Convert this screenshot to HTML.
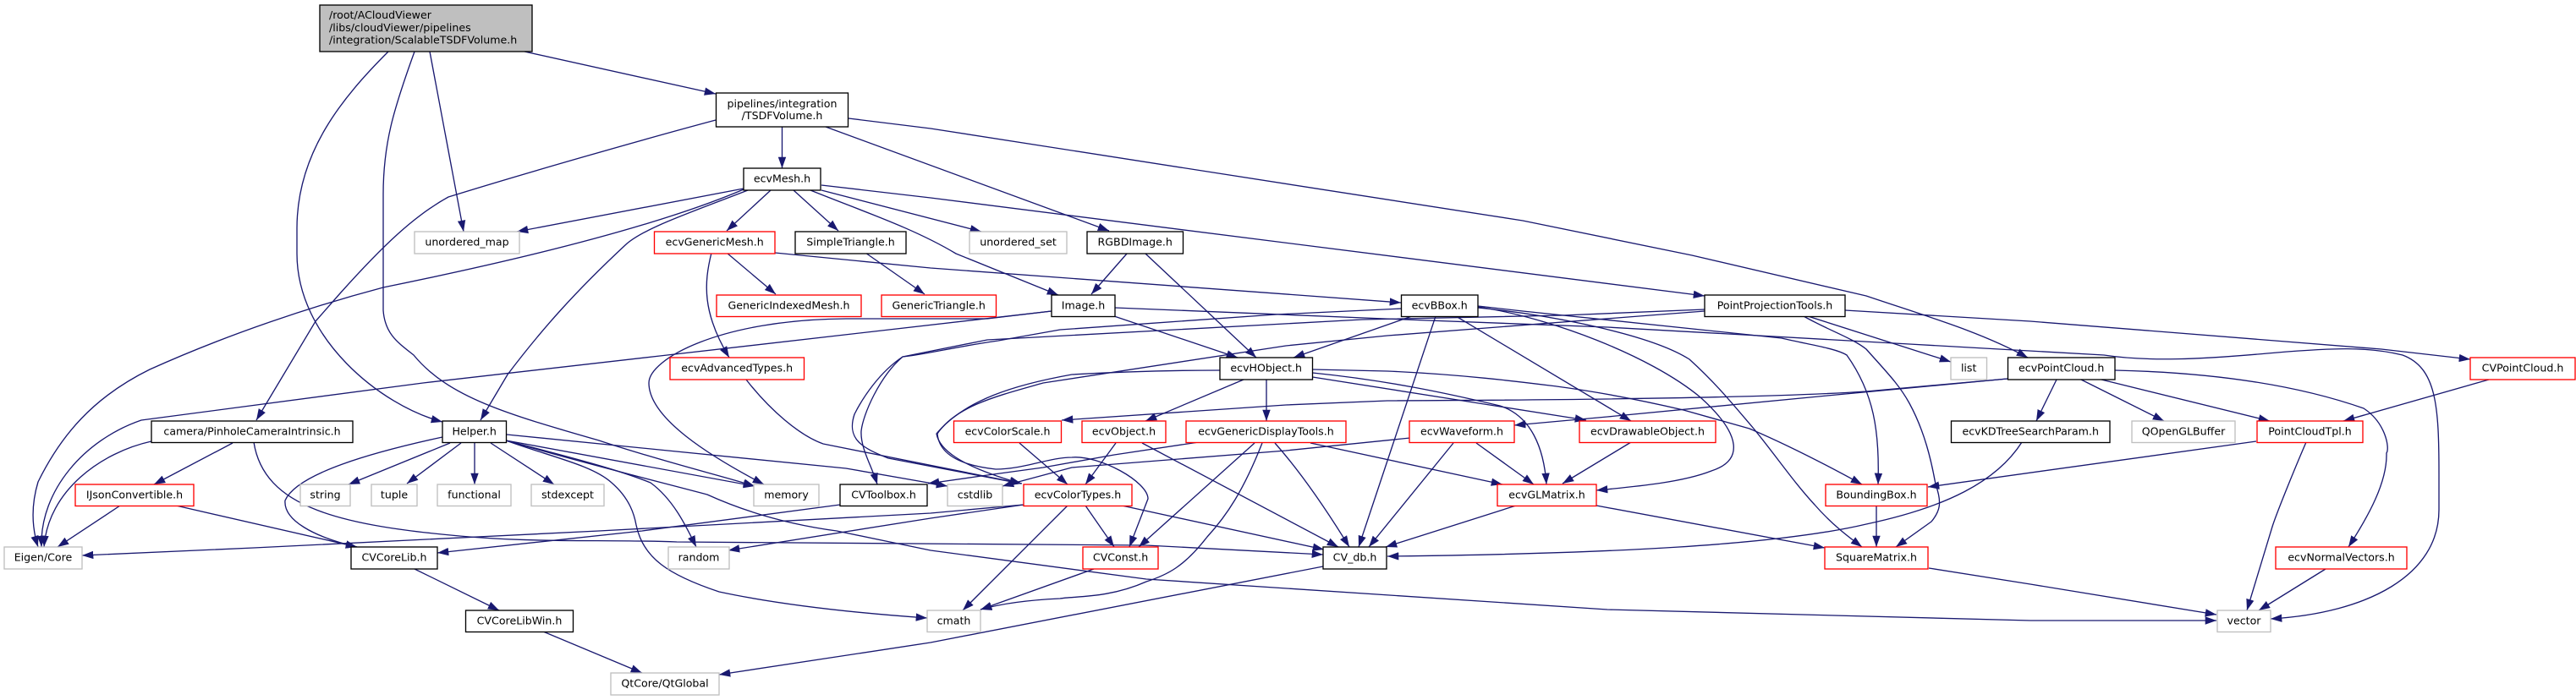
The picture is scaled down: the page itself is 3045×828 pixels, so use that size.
<!DOCTYPE html>
<html><head><meta charset="utf-8"><style>
html,body{margin:0;padding:0;background:#fff;width:3045px;height:828px;overflow:hidden}
svg{display:block}
text{font-family:"DejaVu Sans","Liberation Sans",sans-serif;font-size:12.6px;fill:#000;text-anchor:middle}
.e path{fill:none;stroke:#191970;stroke-width:1.33;marker-end:url(#a);stroke-linejoin:round}
rect{fill:#fff;stroke-width:1.33}
.k{stroke:#000}.r{stroke:#f00}.g{stroke:#bfbfbf}
</style></head><body>
<svg xmlns="http://www.w3.org/2000/svg" width="3045" height="828" viewBox="0 0 3045 828">
<defs><marker id="a" markerUnits="userSpaceOnUse" markerWidth="15" markerHeight="11" refX="13.3" refY="5.5" orient="auto"><path d="M0,0.8 L13.3,5.5 L0,10.2z" fill="#191970"/></marker></defs>
<rect x="0" y="0" width="3045" height="828" style="fill:#fff;stroke:none"/>
<g class="e">
<path d="M620,61 L846,111"/>
<path d="M459,61 C405,115 351,180 351,270 L351,300 C351,400 450,480 523,499"/>
<path d="M490,61 C465,130 453,170 453,230 L453,367 C455,395 470,405 489,420 C530,470 600,490 708,521 C780,545 850,562 892,575"/>
<path d="M508,61 L548,274"/>
<path d="M976,150 L1311,273"/>
<path d="M924.5,150 L924.5,199"/>
<path d="M1003,140 L1100,152 L1800,261 L2000,302 L2206,350 C2280,375 2340,392 2397,423"/>
<path d="M846,142 C760,165 620,205 530,233 C490,255 453,290 402,347 L373,380 L303,497"/>
<path d="M879,223 L611,274"/>
<path d="M971,225 L1160,274"/>
<path d="M958,225 C1020,250 1080,270 1130,300 L1251,349"/>
<path d="M971,219 L1100,234 L2015,350"/>
<path d="M911,225 L859,273"/>
<path d="M938,225 L991,273"/>
<path d="M884,225 C820,250 760,270 739,290 C680,345 640,390 600,443 L568,497"/>
<path d="M879,224 C790,262 650,300 453,340 C370,362 270,395 177,437 C110,470 72,515 45,570 C36,600 38,625 45,647"/>
<path d="M179,522 C120,535 57,580 52,647"/>
<path d="M275,524 L182,573"/>
<path d="M300,523 C312,600 400,622 555,635 C640,642 720,638 800,641 L1355,645 L1564,656"/>
<path d="M859,299 L917,348"/>
<path d="M841,299 C832,335 830,370 862,423"/>
<path d="M916,299 L1100,317 L1656,358"/>
<path d="M1023,299 L1093,348"/>
<path d="M1332,300 L1290,348"/>
<path d="M1354,300 L1485,423"/>
<path d="M1317,374 L1463,423"/>
<path d="M1243,368 L1167,377 L1000,377 C850,378 767,425 767,453 C767,495 840,540 903,573"/>
<path d="M1243,368 L780,421 L500,453 L167,497 C100,520 47,580 49,647"/>
<path d="M1318,364 L1661,378 L1900,387 L2257,407 L2487,420 C2540,428 2600,425 2680,418 C2760,411 2800,410 2840,420 C2880,435 2883,480 2883,560 L2883,603 C2883,680 2800,725 2684,732"/>
<path d="M1669,374 L1529,423"/>
<path d="M1697,374 L1606,647"/>
<path d="M1721,374 L1928,498"/>
<path d="M1657,365 L1508,372 L1253,390 L1180,403 C1130,410 1090,420 1067,422 C1040,440 1020,470 1010,490 C1000,520 1020,530 1050,542 L1207,572"/>
<path d="M2015,366 L1847,373 L1610,378 L1167,402 L1067,422 C1040,445 1020,490 1018,510 C1017,530 1030,550 1037,573"/>
<path d="M2015,368 L1640,397 L1520,409 L1233,453 C1180,468 1130,480 1108,513 C1110,535 1130,550 1177,555 C1210,555 1240,541 1267,541 C1300,538 1357,570 1357,590 L1335,647"/>
<path d="M1442,438 C1380,438 1320,440 1267,443 C1200,455 1140,473 1107,513 C1110,530 1130,550 1207,572"/>
<path d="M1747,363 C1830,375 1950,420 2010,470 C2060,515 2060,545 2023,557 C1990,570 1940,575 1887,580"/>
<path d="M1747,364 C1830,372 1950,395 1997,425 C2030,455 2050,480 2073,507 C2100,540 2120,570 2145,597 C2165,620 2185,635 2201,647"/>
<path d="M1747,362 L1800,368 L2106,400 C2140,408 2170,412 2183,420 C2215,465 2222,510 2220,573"/>
<path d="M2132,374 C2160,390 2190,400 2206,413 C2230,440 2245,455 2257,477 C2275,510 2283,545 2288,573 C2296,595 2293,605 2283,617 L2241,647"/>
<path d="M2137,374 L2306,428"/>
<path d="M2181,367 L2400,380 L2815,413 L2920,425"/>
<path d="M2431,449 L2407,498"/>
<path d="M2460,449 L2558,498"/>
<path d="M2484,449 L2683,498"/>
<path d="M2500,438 C2590,440 2700,450 2794,483 C2820,500 2825,530 2821,536 C2822,570 2800,610 2776,647"/>
<path d="M2373,448 L2160,468 L1900,493 L1790,503"/>
<path d="M2373,448 L2206,463 C2100,470 1900,473 1640,474 L1520,479 L1255,497"/>
<path d="M1470,449 L1354,498"/>
<path d="M1497,449 L1497,498"/>
<path d="M1551.5,446 L1875,497"/>
<path d="M1551.5,441 C1640,450 1710,465 1773,480 C1810,492 1825,530 1828,573"/>
<path d="M1551.5,437 L1640,439 C1730,443 1800,452 1840,457 C1900,465 1960,478 1990,485 L2068,507 C2110,525 2150,545 2201,573"/>
<path d="M1205,524 L1262,573"/>
<path d="M1319,524 L1283,573"/>
<path d="M1350,524 L1582,647"/>
<path d="M1483,524 L1346,647"/>
<path d="M1492,524 C1470,580 1450,610 1427,635 C1400,670 1380,680 1355,688 C1310,708 1270,705 1253,708 C1210,710 1180,715 1159,721"/>
<path d="M1507,524 C1530,550 1560,590 1595,647"/>
<path d="M1549,524 L1776,573"/>
<path d="M1417,523 L1317,538 L1233,553 L1167,562 L1097,572"/>
<path d="M1667,518 L1520,533 L1267,553 L1185,575"/>
<path d="M599,514 L1000,554 L1120,575"/>
<path d="M882,449 C910,485 945,515 973,525 L1208,572"/>
<path d="M1745,524 L1813,573"/>
<path d="M1718,524 L1618,647"/>
<path d="M1928,523 L1847,572"/>
<path d="M1283,598 L1317,647"/>
<path d="M1326,598 L1565,650"/>
<path d="M1262,598 L1138,722"/>
<path d="M1210,597 L1100,613 L861,651"/>
<path d="M1210,597 L1100,607 L708,628 L300,648 L97,657"/>
<path d="M993,597 L759,628 L517,654"/>
<path d="M1792,598 L1638,647"/>
<path d="M1887,598 L2157,648"/>
<path d="M2218,598 L2218,647"/>
<path d="M1293,673 L1159,721"/>
<path d="M1564,670 L1100,760 L850,798"/>
<path d="M490,673 L590,722"/>
<path d="M642,747 L759,796"/>
<path d="M208,598 L422,647"/>
<path d="M142,598 L68,647"/>
<path d="M532,524 L412,573"/>
<path d="M545,524 L481,572"/>
<path d="M561,524 L561,573"/>
<path d="M580,524 L655,573"/>
<path d="M523,517 C440,535 351,560 337,592 C335,615 370,635 422,647"/>
<path d="M598,521 L892,575"/>
<path d="M598,521 C670,540 730,555 769,571 C795,590 810,620 823,647"/>
<path d="M598,521 C650,540 700,550 723,571 C745,590 750,610 752,621 C760,660 790,680 850,700 C920,715 1010,725 1096,731"/>
<path d="M598,521 C680,545 760,565 836,585 C880,605 930,620 989,628 L1100,651 L1355,685 L1900,721 L2400,734 L2620,734"/>
<path d="M2390,523 C2360,570 2300,600 2206,620 C2100,645 1900,655 1640,658"/>
<path d="M2667,522 L2279,576"/>
<path d="M2726,523 C2710,560 2690,610 2686,623 L2656,722"/>
<path d="M2942,449 L2770,498"/>
<path d="M2749,673 L2670,722"/>
<path d="M2280,672 L2400,691 L2620,727"/>
</g>
<rect x="378" y="6" width="251" height="55" class="k" style="fill:#bfbfbf"/>
<text x="389" y="22" style="text-anchor:start">/root/ACloudViewer</text>
<text x="389" y="37" style="text-anchor:start">/libs/cloudViewer/pipelines</text>
<text x="389" y="51.6" style="text-anchor:start">/integration/ScalableTSDFVolume.h</text>
<rect x="846.5" y="110" width="156" height="40" class="k"/>
<text x="924.5" y="127">pipelines/integration</text><text x="924.5" y="141">/TSDFVolume.h</text>
<rect x="879" y="199" width="91" height="26" class="k"/><text x="924.5" y="215.5">ecvMesh.h</text>
<rect x="490" y="274" width="124" height="26" class="g"/><text x="552" y="290.5">unordered_map</text>
<rect x="773.5" y="274" width="142.5" height="26" class="r"/><text x="844.7" y="290.5">ecvGenericMesh.h</text>
<rect x="940" y="274" width="131" height="26" class="k"/><text x="1005.5" y="290.5">SimpleTriangle.h</text>
<rect x="1146" y="274" width="115" height="26" class="g"/><text x="1203.5" y="290.5">unordered_set</text>
<rect x="1285" y="274" width="113.5" height="26" class="k"/><text x="1341.7" y="290.5">RGBDImage.h</text>
<rect x="847" y="349" width="171" height="25.5" class="r"/><text x="932.5" y="365.5">GenericIndexedMesh.h</text>
<rect x="1042" y="349" width="135.5" height="25.5" class="r"/><text x="1109.7" y="365.5">GenericTriangle.h</text>
<rect x="1243" y="349" width="75" height="25.5" class="k"/><text x="1280.5" y="365.5">Image.h</text>
<rect x="1656.5" y="349" width="90.5" height="25.5" class="k"/><text x="1701.7" y="365.5">ecvBBox.h</text>
<rect x="2015" y="349" width="166" height="25.5" class="k"/><text x="2098" y="365.5">PointProjectionTools.h</text>
<rect x="792" y="423" width="158.5" height="26" class="r"/><text x="871.2" y="439.5">ecvAdvancedTypes.h</text>
<rect x="1442" y="423" width="109.5" height="26" class="k"/><text x="1496.7" y="439.5">ecvHObject.h</text>
<rect x="2306" y="423" width="42.5" height="26" class="g"/><text x="2327.2" y="439.5">list</text>
<rect x="2373.5" y="423" width="126.5" height="26" class="k"/><text x="2436.7" y="439.5">ecvPointCloud.h</text>
<rect x="2920" y="423" width="124" height="26" class="r"/><text x="2982" y="439.5">CVPointCloud.h</text>
<rect x="179" y="498" width="238" height="25.5" class="k"/><text x="298" y="514.5">camera/PinholeCameraIntrinsic.h</text>
<rect x="523" y="498" width="75.5" height="25.5" class="k"/><text x="560.7" y="514.5">Helper.h</text>
<rect x="1127.5" y="498" width="127" height="25.5" class="r"/><text x="1191" y="514.5">ecvColorScale.h</text>
<rect x="1279" y="498" width="99" height="25.5" class="r"/><text x="1328.5" y="514.5">ecvObject.h</text>
<rect x="1402" y="498" width="189" height="25.5" class="r"/><text x="1496.5" y="514.5">ecvGenericDisplayTools.h</text>
<rect x="1666" y="498" width="124" height="25.5" class="r"/><text x="1728" y="514.5">ecvWaveform.h</text>
<rect x="1867" y="498" width="161" height="25.5" class="r"/><text x="1947.5" y="514.5">ecvDrawableObject.h</text>
<rect x="2306.5" y="498" width="187.5" height="25.5" class="k"/><text x="2400.2" y="514.5">ecvKDTreeSearchParam.h</text>
<rect x="2520" y="498" width="122" height="25.5" class="g"/><text x="2581" y="514.5">QOpenGLBuffer</text>
<rect x="2668" y="498" width="125" height="25.5" class="r"/><text x="2730.5" y="514.5">PointCloudTpl.h</text>
<rect x="89" y="573" width="140" height="25.5" class="r"/><text x="159" y="589.5">IJsonConvertible.h</text>
<rect x="355" y="573" width="59" height="25.5" class="g"/><text x="384.5" y="589.5">string</text>
<rect x="439" y="573" width="54" height="25.5" class="g"/><text x="466" y="589.5">tuple</text>
<rect x="517" y="573" width="87" height="25.5" class="g"/><text x="560.5" y="589.5">functional</text>
<rect x="628" y="573" width="86" height="25.5" class="g"/><text x="671" y="589.5">stdexcept</text>
<rect x="891" y="573" width="77" height="25.5" class="g"/><text x="929.5" y="589.5">memory</text>
<rect x="993" y="573" width="103" height="25.5" class="k"/><text x="1044.5" y="589.5">CVToolbox.h</text>
<rect x="1120" y="573" width="65" height="25.5" class="g"/><text x="1152.5" y="589.5">cstdlib</text>
<rect x="1210" y="573" width="128" height="25.5" class="r"/><text x="1274" y="589.5">ecvColorTypes.h</text>
<rect x="1770" y="573" width="117" height="25.5" class="r"/><text x="1828.5" y="589.5">ecvGLMatrix.h</text>
<rect x="2158" y="573" width="120" height="25.5" class="r"/><text x="2218" y="589.5">BoundingBox.h</text>
<rect x="5" y="647" width="92" height="26" class="g"/><text x="51" y="663.5">Eigen/Core</text>
<rect x="415" y="647" width="102" height="26" class="k"/><text x="466" y="663.5">CVCoreLib.h</text>
<rect x="790" y="647" width="72" height="26" class="g"/><text x="826" y="663.5">random</text>
<rect x="1280" y="647" width="89" height="26" class="r"/><text x="1324.5" y="663.5">CVConst.h</text>
<rect x="1564" y="647" width="75" height="26" class="k"/><text x="1601.5" y="663.5">CV_db.h</text>
<rect x="2157" y="647" width="122" height="26" class="r"/><text x="2218" y="663.5">SquareMatrix.h</text>
<rect x="2690" y="647" width="155" height="26" class="r"/><text x="2767.5" y="663.5">ecvNormalVectors.h</text>
<rect x="550.5" y="722" width="127" height="25.5" class="k"/><text x="614" y="738.5">CVCoreLibWin.h</text>
<rect x="1096" y="722" width="63" height="25.5" class="g"/><text x="1127.5" y="738.5">cmath</text>
<rect x="2621" y="722" width="63" height="25.5" class="g"/><text x="2652.5" y="738.5">vector</text>
<rect x="722" y="796" width="128" height="26" class="g"/><text x="786" y="812.5">QtCore/QtGlobal</text>
</svg>
</body></html>
